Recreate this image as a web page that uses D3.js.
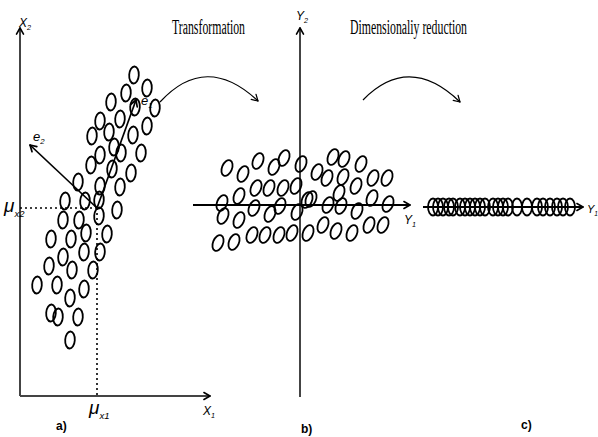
<!DOCTYPE html>
<html>
<head>
<meta charset="utf-8">
<script src="https://cdn.jsdelivr.net/npm/d3@7"></script>
<style>
  body { margin: 0; background: #fff; }
  svg { display: block; }
  .lbl { font-family: "Liberation Sans Narrow", "Liberation Sans", Arial, sans-serif; font-style: italic; }
  .ttl { font-family: "Liberation Serif", "Times New Roman", serif; }
  .tag { font-family: "Liberation Sans Narrow", "Liberation Sans", Arial, sans-serif; font-weight: bold; }
</style>
</head>
<body>
<div id="chart"></div>
<script>
// a) original data (X1, X2), origin at the axis corner
const ptsA = [
  [114, 321], [127, 308], [106, 303], [91, 294], [115, 289], [135, 288],
  [100, 277], [80, 275], [127, 270], [72, 260], [89, 264], [113, 261],
  [94, 249], [80, 241], [101, 243], [121, 243], [71, 231], [92, 227],
  [111, 223], [58, 214], [80, 210], [100, 209],
  [45, 195], [65, 195], [79, 196], [97, 186], [43, 176], [59, 176],
  [79, 180], [31, 157], [51, 157], [66, 163], [87, 162], [43, 139],
  [64, 144], [80, 144], [29, 130], [52, 126], [73, 126], [17, 111],
  [37, 111], [64, 107], [50, 98], [31, 83], [38, 79], [58, 79], [50, 56]
];
const meanA = [77, 188];
const e1Tip = [116, 296];
const e2Tip = [10, 251];

// b) transformed data (Y1, Y2), origin at the centre
const ptsB = [
  [-73, 37], [-57, 31], [-42, 44], [-26, 38], [-16, 47], [1, 41], [17, 33],
  [33, 48], [44, 46], [61, 41], [27, 27], [43, 28], [73, 27], [87, 27],
  [-44, 17], [-31, 17], [-17, 17], [-4, 19], [-61, 9], [56, 19], [39, 12], [72, 7],
  [-78, 2], [-46, -3], [-20, -1], [-3, -7], [7, 5], [11, 6], [28, 0], [41, -1],
  [57, -6], [88, 1], [-77, -11], [-61, -15], [-30, -9],
  [-82, -38], [-66, -37], [-48, -30], [-35, -30], [-21, -30], [-8, -28],
  [8, -28], [23, -20], [36, -26], [52, -28], [69, -20], [83, -20]
];

// c) reduced data, Y1 only
const ptsC = [10, 15, 20, 26, 30, 37, 42, 47, 52, 57, 62, 70, 75, 80, 85,
  94, 104, 114, 120, 127, 134, 140, 147];

const titles = ["Transformation", "Dimensionaliy reduction"];
const tags = ["a)", "b)", "c)"];

const W = 598, H = 437;
const svg = d3.select('#chart').append('svg')
  .attr('width', W).attr('height', H);

const toRad = d => d * Math.PI / 180;

// open chevron arrow head, angle = direction the arrow points (deg)
function chevron(g, x, y, angle, len, color, sw) {
  const a = toRad(angle);
  [150, -150].forEach(s => {
    const b = a + toRad(s);
    g.append('line')
      .attr('x1', x).attr('y1', y)
      .attr('x2', x + len * Math.cos(b)).attr('y2', y + len * Math.sin(b))
      .attr('stroke', color).attr('stroke-width', sw)
      .attr('stroke-linecap', 'round');
  });
}

function ellipses(g, pts, rx, ry, rot) {
  g.selectAll('ellipse')
    .data(pts)
    .join('ellipse')
    .attr('cx', 0).attr('cy', 0)
    .attr('rx', rx).attr('ry', ry)
    .attr('transform', d => `translate(${d[0]},${d[1]}) rotate(${rot})`)
    .attr('fill', 'none')
    .attr('stroke', '#000')
    .attr('stroke-width', 1.8);
}

function subLabel(g, x, y, main, sub, size, subScale) {
  const t = g.append('text').attr('class', 'lbl')
    .attr('x', x).attr('y', y).attr('font-size', size);
  t.append('tspan').text(main);
  t.append('tspan').attr('font-size', size * (subScale || 0.6)).attr('dy', size * 0.25).text(sub);
  return t;
}

// ---------- panel a ----------
const xA = d3.scaleLinear().domain([0, 190]).range([20, 210]);
const yA = d3.scaleLinear().domain([0, 368]).range([396, 28]);
const gA = svg.append('g');
const axCol = '#444';

gA.append('line')
  .attr('x1', xA(0)).attr('y1', yA(0)).attr('x2', xA(0)).attr('y2', yA(368))
  .attr('stroke', axCol).attr('stroke-width', 2);
chevron(gA, xA(0), yA(368), -90, 7, '#000', 1.6);
gA.append('line')
  .attr('x1', xA(0)).attr('y1', yA(0)).attr('x2', xA(190)).attr('y2', yA(0))
  .attr('stroke', axCol).attr('stroke-width', 2);
chevron(gA, xA(190), yA(0), 0, 7, '#000', 1.6);

// dotted mean guides
gA.append('line')
  .attr('x1', xA(0)).attr('y1', yA(meanA[1])).attr('x2', xA(meanA[0])).attr('y2', yA(meanA[1]))
  .attr('stroke', '#000').attr('stroke-width', 1.6).attr('stroke-dasharray', '2,3');
gA.append('line')
  .attr('x1', xA(meanA[0])).attr('y1', yA(meanA[1])).attr('x2', xA(meanA[0])).attr('y2', yA(0))
  .attr('stroke', '#000').attr('stroke-width', 1.6).attr('stroke-dasharray', '2,3');

ellipses(gA, ptsA.map(d => [xA(d[0]), yA(d[1])]), 4.8, 8.5, 4);

// eigenvectors
[e1Tip, e2Tip].forEach(tip => {
  const x1 = xA(meanA[0]), y1 = yA(meanA[1]), x2 = xA(tip[0]), y2 = yA(tip[1]);
  gA.append('line')
    .attr('x1', x1).attr('y1', y1).attr('x2', x2).attr('y2', y2)
    .attr('stroke', '#000').attr('stroke-width', 1.7);
  chevron(gA, x2, y2, Math.atan2(y2 - y1, x2 - x1) * 180 / Math.PI, 7, '#000', 1.7);
});

subLabel(gA, 19, 27, 'X', '2', 12);
subLabel(gA, 203, 415, 'X', '1', 12);
subLabel(gA, 141, 105, 'e', '1', 13);
subLabel(gA, 33, 141, 'e', '2', 13);
subLabel(gA, 89, 414, 'μ', 'x1', 19, 0.5);
subLabel(gA, 4, 212, 'μ', 'x2', 19, 0.5);

// ---------- panel b ----------
const xB = d3.scaleLinear().domain([-107, 110]).range([193, 410]);
const yB = d3.scaleLinear().domain([-192, 177]).range([397, 28]);
const gB = svg.append('g');

gB.append('line')
  .attr('x1', xB(0)).attr('y1', yB(-192)).attr('x2', xB(0)).attr('y2', yB(177))
  .attr('stroke', axCol).attr('stroke-width', 2);
chevron(gB, xB(0), yB(177), -90, 7, '#000', 1.6);
gB.append('line')
  .attr('x1', xB(-107)).attr('y1', yB(0)).attr('x2', xB(110)).attr('y2', yB(0))
  .attr('stroke', '#000').attr('stroke-width', 1.8);
chevron(gB, xB(110), yB(0), 0, 7, '#000', 1.6);

ellipses(gB, ptsB.map(d => [xB(d[0]), yB(d[1])]), 5, 8.3, 22);

subLabel(gB, 296, 20, 'Y', '2', 12);
subLabel(gB, 404, 224, 'Y', '1', 12);

// ---------- panel c ----------
const xC = d3.scaleLinear().domain([0, 160]).range([423, 583]);
const yC = 207;
const gC = svg.append('g');
gC.append('line')
  .attr('x1', xC(0)).attr('y1', yC).attr('x2', xC(160)).attr('y2', yC)
  .attr('stroke', '#000').attr('stroke-width', 1.8);
chevron(gC, xC(160), yC, 0, 7, '#000', 1.6);
ellipses(gC, ptsC.map(v => [xC(v), yC]), 5, 8.5, 0);
subLabel(gC, 587, 213, 'Y', '1', 11);

// ---------- curved arrows and titles ----------
const arrows = [
  { s: [160, 102], c: [206, 52], e: [258, 101] },
  { s: [363, 100], c: [409, 53], e: [460, 102] }
];
arrows.forEach(a => {
  const p = d3.path();
  p.moveTo(a.s[0], a.s[1]);
  p.quadraticCurveTo(a.c[0], a.c[1], a.e[0], a.e[1]);
  svg.append('path').attr('d', p.toString())
    .attr('fill', 'none').attr('stroke', '#000').attr('stroke-width', 1.2);
  const ang = Math.atan2(a.e[1] - a.c[1], a.e[0] - a.c[0]) * 180 / Math.PI;
  chevron(svg, a.e[0], a.e[1], ang, 7, '#000', 1.2);
});

svg.append('text').attr('class', 'ttl')
  .attr('x', 172).attr('y', 34).attr('font-size', 20)
  .attr('textLength', 73).attr('lengthAdjust', 'spacingAndGlyphs')
  .text(titles[0]);
svg.append('text').attr('class', 'ttl')
  .attr('x', 350).attr('y', 34).attr('font-size', 20)
  .attr('textLength', 117).attr('lengthAdjust', 'spacingAndGlyphs')
  .text(titles[1]);

// panel tags
[[56, 430], [301, 433], [521, 429]].forEach((p, i) => {
  svg.append('text').attr('class', 'tag')
    .attr('x', p[0]).attr('y', p[1]).attr('font-size', 12)
    .text(tags[i]);
});
</script>
</body>
</html>
